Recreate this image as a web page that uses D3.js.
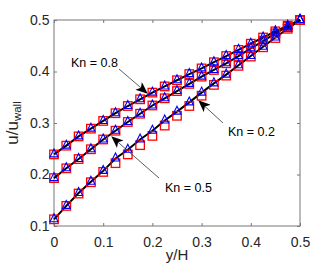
<!DOCTYPE html>
<html>
<head>
<meta charset="utf-8">
<script src="https://cdn.jsdelivr.net/npm/d3@7"></script>
<style>
  html, body { margin: 0; padding: 0; background: #fff; }
  svg { display: block; font-family: "Liberation Sans", Arial, sans-serif; }
</style>
</head>
<body>
<svg id="chart" width="332" height="272"></svg>
<script>
// y/H positions
const yH = [0, 0.025, 0.05, 0.075, 0.1, 0.125, 0.15, 0.175, 0.2, 0.225, 0.25,
  0.275, 0.3, 0.325, 0.35, 0.375, 0.4, 0.425, 0.45, 0.475, 0.5];

// red squares
const sqKn08 = [0.239, 0.256, 0.274, 0.289, 0.304, 0.319, 0.333, 0.346, 0.359, 0.371, 0.383,
  0.395, 0.406, 0.418, 0.430, 0.442, 0.454, 0.466, 0.478, 0.489, 0.5];
const sqKn05 = [0.193, 0.212, 0.230, 0.249, 0.268, 0.285, 0.302, 0.318, 0.334, 0.348, 0.362,
  0.376, 0.390, 0.403, 0.416, 0.430, 0.445, 0.459, 0.474, 0.487, 0.5];
const sqKn02 = [0.113, 0.139, 0.163, 0.185, 0.205, 0.222, 0.239, 0.257, 0.275, 0.295, 0.314,
  0.333, 0.353, 0.374, 0.392, 0.411, 0.429, 0.447, 0.465, 0.483, 0.5];

// blue triangles (black line follows these)
const triKn08 = sqKn08;
const triKn05 = sqKn05;
const triKn02 = [0.113, 0.139, 0.164, 0.186, 0.207, 0.231, 0.248, 0.268, 0.285, 0.305, 0.322,
  0.340, 0.359, 0.377, 0.394, 0.412, 0.430, 0.448, 0.466, 0.483, 0.5];

const xTicks = [0, 0.1, 0.2, 0.3, 0.4, 0.5];
const yTicks = [0.1, 0.2, 0.3, 0.4, 0.5];

const labels = [
  {text: "Kn = 0.8", tx: 71, ty: 67, from: [119, 69], to: [147, 93]},
  {text: "Kn = 0.2", tx: 228, ty: 136, from: [223, 123], to: [199, 101]},
  {text: "Kn = 0.5", tx: 165, ty: 192, from: [159, 178], to: [112, 137]}
];

const dims = {
  svgWidth: 332, svgHeight: 272,
  margin: {top: 20, left: 54, bottom: 46, right: 32}
};
dims.width = dims.svgWidth - dims.margin.left - dims.margin.right;
dims.height = dims.svgHeight - dims.margin.top - dims.margin.bottom;

const svg = d3.select("#chart");

const x = d3.scaleLinear().domain([0, 0.5]).range([dims.margin.left, dims.margin.left + dims.width]);
const y = d3.scaleLinear().domain([0.1, 0.5]).range([dims.margin.top + dims.height, dims.margin.top]);

const axisColor = "#777";
const textColor = "#262626";

// box
svg.append("rect")
  .attr("x", x(0)).attr("y", y(0.5))
  .attr("width", x(0.5) - x(0)).attr("height", y(0.1) - y(0.5))
  .attr("fill", "none").attr("stroke", axisColor).attr("stroke-width", 1);

// axes with inward ticks
const tk = 3;
const xAxisB = d3.axisBottom(x).tickValues(xTicks).tickFormat(d3.format("")).tickSize(-tk).tickPadding(11);
const yAxisL = d3.axisLeft(y).tickValues(yTicks).tickFormat(d3.format("")).tickSize(-tk).tickPadding(4.5);
const xAxisT = d3.axisTop(x).tickValues(xTicks).tickFormat("").tickSize(-tk);
const yAxisR = d3.axisRight(y).tickValues(yTicks).tickFormat("").tickSize(-tk);

function styleAxis(g) {
  g.select(".domain").remove();
  g.selectAll(".tick line").attr("stroke", axisColor);
  g.selectAll(".tick text").attr("fill", textColor).attr("font-size", 14)
    .attr("font-family", "Liberation Sans, Arial, sans-serif");
}

svg.append("g").attr("transform", `translate(0,${y(0.1)})`).call(xAxisB).call(styleAxis);
svg.append("g").attr("transform", `translate(${x(0)},0)`).call(yAxisL).call(styleAxis);
svg.append("g").attr("transform", `translate(0,${y(0.5)})`).call(xAxisT).call(styleAxis);
svg.append("g").attr("transform", `translate(${x(0.5)},0)`).call(yAxisR).call(styleAxis);

// axis labels
svg.append("text")
  .attr("x", x(0.25)).attr("y", 260)
  .attr("text-anchor", "middle").attr("font-size", 15).attr("fill", textColor)
  .text("y/H");

const yl = svg.append("text")
  .attr("transform", `translate(17.5,${y(0.3)}) rotate(-90)`)
  .attr("text-anchor", "middle").attr("font-size", 17).attr("fill", textColor);
yl.append("tspan").text("u/u");
yl.append("tspan").attr("dy", 3).attr("font-size", 11.5).text("wall");

// data
const series = [
  {sq: sqKn08, tri: triKn08},
  {sq: sqKn05, tri: triKn05},
  {sq: sqKn02, tri: triKn02}
];

const line = d3.line().x((d, i) => x(yH[i])).y(d => y(d));

const plot = svg.append("g");

series.forEach(s => {
  plot.append("path")
    .datum(s.tri)
    .attr("d", line)
    .attr("fill", "none")
    .attr("stroke", "#000")
    .attr("stroke-width", 2);
});

series.forEach(s => {
  plot.append("g").selectAll("rect")
    .data(s.sq)
    .join("rect")
    .attr("x", (d, i) => x(yH[i]) - 4.25)
    .attr("y", d => y(d) - 4.25)
    .attr("width", 8.5).attr("height", 8.5)
    .attr("fill", "none")
    .attr("stroke", "#ff0000")
    .attr("stroke-width", 1.3);
});

series.forEach(s => {
  plot.append("g").selectAll("path")
    .data(s.tri)
    .join("path")
    .attr("d", (d, i) => {
      const cx = x(yH[i]), cy = y(d);
      return `M${cx},${cy - 5.5}L${cx + 4},${cy + 2.5}L${cx - 4},${cy + 2.5}Z`;
    })
    .attr("fill", "none")
    .attr("stroke", "#0000ff")
    .attr("stroke-width", 1.1);
});

// annotations with arrows
svg.append("defs").append("marker")
  .attr("id", "head")
  .attr("viewBox", "0 0 12 10")
  .attr("refX", 11).attr("refY", 5)
  .attr("markerWidth", 12).attr("markerHeight", 10)
  .attr("markerUnits", "userSpaceOnUse")
  .attr("orient", "auto")
  .append("path")
  .attr("d", "M0,0L12,5L0,10L3,5Z")
  .attr("fill", "#000");

labels.forEach(l => {
  svg.append("line")
    .attr("x1", l.from[0]).attr("y1", l.from[1])
    .attr("x2", l.to[0]).attr("y2", l.to[1])
    .attr("stroke", "#333").attr("stroke-width", 0.8)
    .attr("marker-end", "url(#head)");
  svg.append("text")
    .attr("x", l.tx).attr("y", l.ty)
    .attr("font-size", 12.5).attr("fill", "#000")
    .text(l.text);
});
</script>
</body>
</html>
